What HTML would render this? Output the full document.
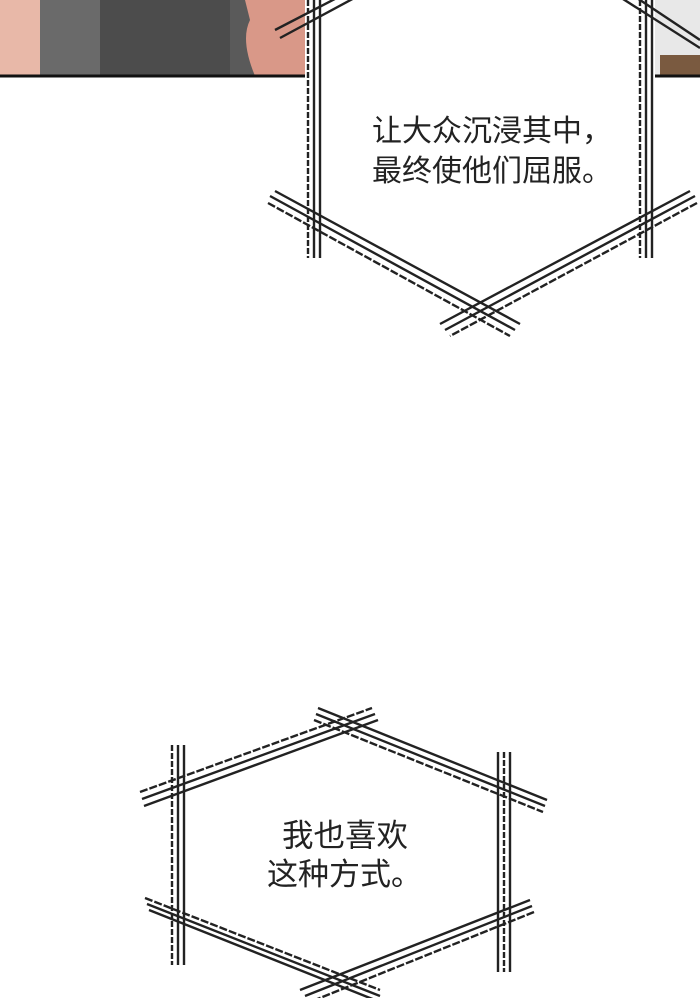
<!DOCTYPE html>
<html><head><meta charset="utf-8"><style>
html,body{margin:0;padding:0;background:#fff;}
body{width:700px;height:998px;position:relative;overflow:hidden;}
.t{position:absolute;font-family:"Liberation Sans","Noto Sans CJK SC",sans-serif;color:#222;white-space:nowrap;}
</style></head><body>
<svg width="700" height="998" style="position:absolute;left:0;top:0">
<rect x="0" y="0" width="305" height="76" fill="#5a5a5a"/>
<rect x="0" y="0" width="40" height="76" fill="#e8b8a8"/>
<rect x="40" y="0" width="60" height="76" fill="#6a6a6a"/>
<rect x="100" y="0" width="130" height="76" fill="#4c4c4c"/>
<path d="M245 0 L305 0 L305 76 L255 76 Q240 40 250 20 Z" fill="#d99888"/>
<rect x="655" y="0" width="45" height="76" fill="#e8e8e8"/>
<rect x="660" y="55" width="40" height="21" fill="#7a5a40"/>
<line x1="0" y1="76" x2="305" y2="76" stroke="#111" stroke-width="3"/>
<line x1="655" y1="76" x2="700" y2="76" stroke="#111" stroke-width="3"/>
<g stroke="#222" stroke-width="2.4" fill="none">
<line x1="308" y1="0" x2="308" y2="258" stroke-dasharray="6 2"/>
<line x1="314" y1="0" x2="314" y2="258"/>
<line x1="320" y1="0" x2="320" y2="258"/>
<line x1="640" y1="0" x2="640" y2="258" stroke-dasharray="6 2"/>
<line x1="646" y1="0" x2="646" y2="258"/>
<line x1="652" y1="0" x2="652" y2="258"/>
<line x1="270" y1="196" x2="515" y2="330"/>
<line x1="268" y1="203" x2="510" y2="336" stroke-dasharray="8 2"/>
<line x1="275" y1="191" x2="520" y2="324"/>
<line x1="695" y1="196" x2="445" y2="330"/>
<line x1="697" y1="203" x2="450" y2="336" stroke-dasharray="8 2"/>
<line x1="690" y1="191" x2="440" y2="324"/>
<line x1="275" y1="30" x2="410" y2="-40"/>
<line x1="280" y1="38" x2="410" y2="-32"/>
<line x1="595" y1="-30" x2="700" y2="40"/>
<line x1="590" y1="-22" x2="700" y2="48"/>
<line x1="172" y1="745" x2="172" y2="965" stroke-dasharray="6 2"/>
<line x1="178" y1="745" x2="178" y2="965"/>
<line x1="184" y1="745" x2="184" y2="965"/>
<line x1="498" y1="752" x2="498" y2="972"/>
<line x1="504" y1="752" x2="504" y2="972" stroke-dasharray="6 2"/>
<line x1="510" y1="752" x2="510" y2="972"/>
<line x1="140" y1="792" x2="372" y2="708" stroke-dasharray="8 2"/>
<line x1="142" y1="799" x2="375" y2="714"/>
<line x1="144" y1="806" x2="378" y2="720"/>
<line x1="318" y1="708" x2="547" y2="800"/>
<line x1="316" y1="714" x2="545" y2="806"/>
<line x1="314" y1="720" x2="543" y2="812" stroke-dasharray="8 2"/>
<line x1="145" y1="898" x2="380" y2="990" stroke-dasharray="8 2"/>
<line x1="147" y1="904" x2="380" y2="996"/>
<line x1="149" y1="910" x2="375" y2="1000"/>
<line x1="530" y1="900" x2="300" y2="990"/>
<line x1="532" y1="906" x2="305" y2="996"/>
<line x1="534" y1="912" x2="310" y2="1002" stroke-dasharray="8 2"/>
</g>
</svg>
<div class="t" style="left:372px;top:112px;font-size:30px;line-height:40px;">让大众沉浸其中，<br>最终使他们屈服。</div>
<div class="t" style="left:282px;top:815px;font-size:31.5px;line-height:40px;">我也喜欢</div>
<div class="t" style="left:267px;top:855px;font-size:31px;line-height:40px;">这种方式。</div>
</body></html>
